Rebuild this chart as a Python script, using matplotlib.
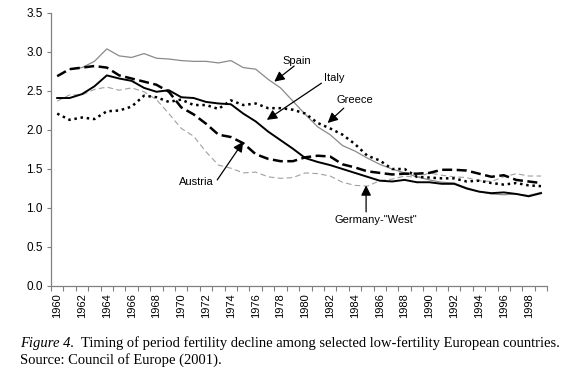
import matplotlib.pyplot as plt
import numpy as np

years = list(range(1960, 2000))
spain = [np.nan, 2.78, 2.80, 2.88, 3.04, 2.95, 2.93, 2.98, 2.92, 2.91, 2.89, 2.88, 2.88, 2.86, 2.89, 2.80, 2.78,
         2.65, 2.54, 2.37, 2.20, 2.04, 1.94, 1.80, 1.73, 1.64, 1.56, 1.50, 1.45, 1.40, 1.36, 1.33, 1.32, 1.26,
         1.21, 1.18, 1.17, 1.18, 1.16, 1.20]
italy = [2.41, 2.41, 2.46, 2.56, 2.70, 2.66, 2.63, 2.54, 2.49, 2.51, 2.42, 2.41, 2.36, 2.34, 2.33, 2.21, 2.11,
         1.98, 1.87, 1.76, 1.64, 1.59, 1.55, 1.50, 1.45, 1.40, 1.35, 1.34, 1.36, 1.33, 1.33, 1.31, 1.31, 1.25,
         1.21, 1.19, 1.20, 1.18, 1.15, 1.19]
greece = [2.21, 2.13, 2.16, 2.14, 2.24, 2.25, 2.30, 2.44, 2.42, 2.36, 2.39, 2.32, 2.32, 2.27, 2.38, 2.32, 2.34,
          2.28, 2.28, 2.26, 2.21, 2.09, 2.02, 1.94, 1.82, 1.67, 1.61, 1.50, 1.50, 1.40, 1.39, 1.38, 1.38, 1.34,
          1.35, 1.32, 1.30, 1.32, 1.29, 1.28]
austria = [2.69, 2.78, 2.80, 2.82, 2.80, 2.70, 2.66, 2.62, 2.58, 2.49, 2.29, 2.20, 2.08, 1.94, 1.91, 1.83, 1.69,
           1.63, 1.60, 1.60, 1.65, 1.67, 1.66, 1.56, 1.52, 1.47, 1.45, 1.43, 1.44, 1.44, 1.45, 1.49, 1.49, 1.48,
           1.44, 1.40, 1.42, 1.36, 1.34, 1.32]
germany = [2.37, 2.45, 2.45, 2.52, 2.55, 2.51, 2.54, 2.49, 2.39, 2.21, 2.02, 1.92, 1.72, 1.55, 1.51, 1.45, 1.46,
           1.40, 1.38, 1.39, 1.45, 1.44, 1.41, 1.33, 1.29, 1.28, 1.35, 1.37, 1.41, 1.39, 1.45, 1.42, 1.40, 1.39,
           1.35, 1.34, 1.40, 1.44, 1.41, 1.41]

plt.rcParams['font.family'] = ['Liberation Sans', 'DejaVu Sans']

fig = plt.figure(figsize=(5.73, 3.79), dpi=100)
ax = fig.add_axes([0.089, 0.2454, 0.866, 0.7203])

x = np.arange(len(years))
ax.plot(x, spain, color='#8a8a8a', lw=0.9, ls='-')
ax.plot(x, germany, color='#a0a0a0', lw=0.8, ls=(0, (5, 3)))
ax.plot(x, austria, color='black', lw=1.8, ls=(0, (4, 1.8)))
ax.plot(x, greece, color='black', lw=1.8, ls=(0, (1, 1.5)))
ax.plot(x, italy, color='black', lw=1.4, ls='-')

ax.set_xlim(-0.5, len(years) - 0.5)
ax.set_ylim(0, 3.5)
ax.set_yticks(np.arange(0, 3.51, 0.5))
ax.set_yticklabels(['%.1f' % v for v in np.arange(0, 3.51, 0.5)], fontsize=8.5)
ax.set_xticks(x[::2])
ax.set_xticklabels([str(y) for y in years[::2]], rotation=90, fontsize=8)
ax.set_xticks(np.arange(-0.5, len(years)), minor=True)
ax.tick_params(axis='x', which='major', length=0, pad=5)
ax.tick_params(axis='x', which='minor', length=3.5, color='#808080', width=0.8)
ax.tick_params(axis='y', length=3, color='#808080', width=0.8, pad=3)

for s in ['top', 'right']:
    ax.spines[s].set_visible(False)
for s in ['left', 'bottom']:
    ax.spines[s].set_color('#808080')
    ax.spines[s].set_linewidth(0.9)

# étiquettes avec flèches
arrow = dict(arrowstyle='-|>', color='black', lw=0.9, mutation_scale=15, shrinkA=0, shrinkB=0)
labels = [
    ('Spain', (19.3, 2.88), (19.1, 2.82), (17.5, 2.62)),
    ('Italy', (22.3, 2.67), (21.3, 2.60), (16.9, 2.13)),
    ('Greece', (24.0, 2.38), (23.1, 2.28), (21.8, 2.09)),
    ('Austria', (11.2, 1.33), (12.9, 1.36), (15.0, 1.85)),
    ('Germany-"West"', (25.7, 0.85), (24.9, 0.95), (24.9, 1.29)),
]
for name, pos, tail, head in labels:
    ax.text(pos[0], pos[1], name, fontsize=8, ha='center', va='center')
    ax.annotate('', xy=head, xytext=tail, arrowprops=arrow)

t1 = fig.text(20 / 573, 1 - 350 / 379, 'Figure 4.', family='Liberation Serif', style='italic',
              fontsize=10.5, va='bottom', ha='left')
ax.annotate('  Timing of period fertility decline among selected low-fertility European countries.',
            xy=(1, 0), xycoords=t1, va='bottom', ha='left', family='Liberation Serif', fontsize=10.5,
            annotation_clip=False)
fig.text(20 / 573, 1 - 367 / 379, 'Source: Council of Europe (2001).', family='Liberation Serif',
         fontsize=10.5, va='bottom', ha='left')

fig.savefig('out.png', dpi=100)
